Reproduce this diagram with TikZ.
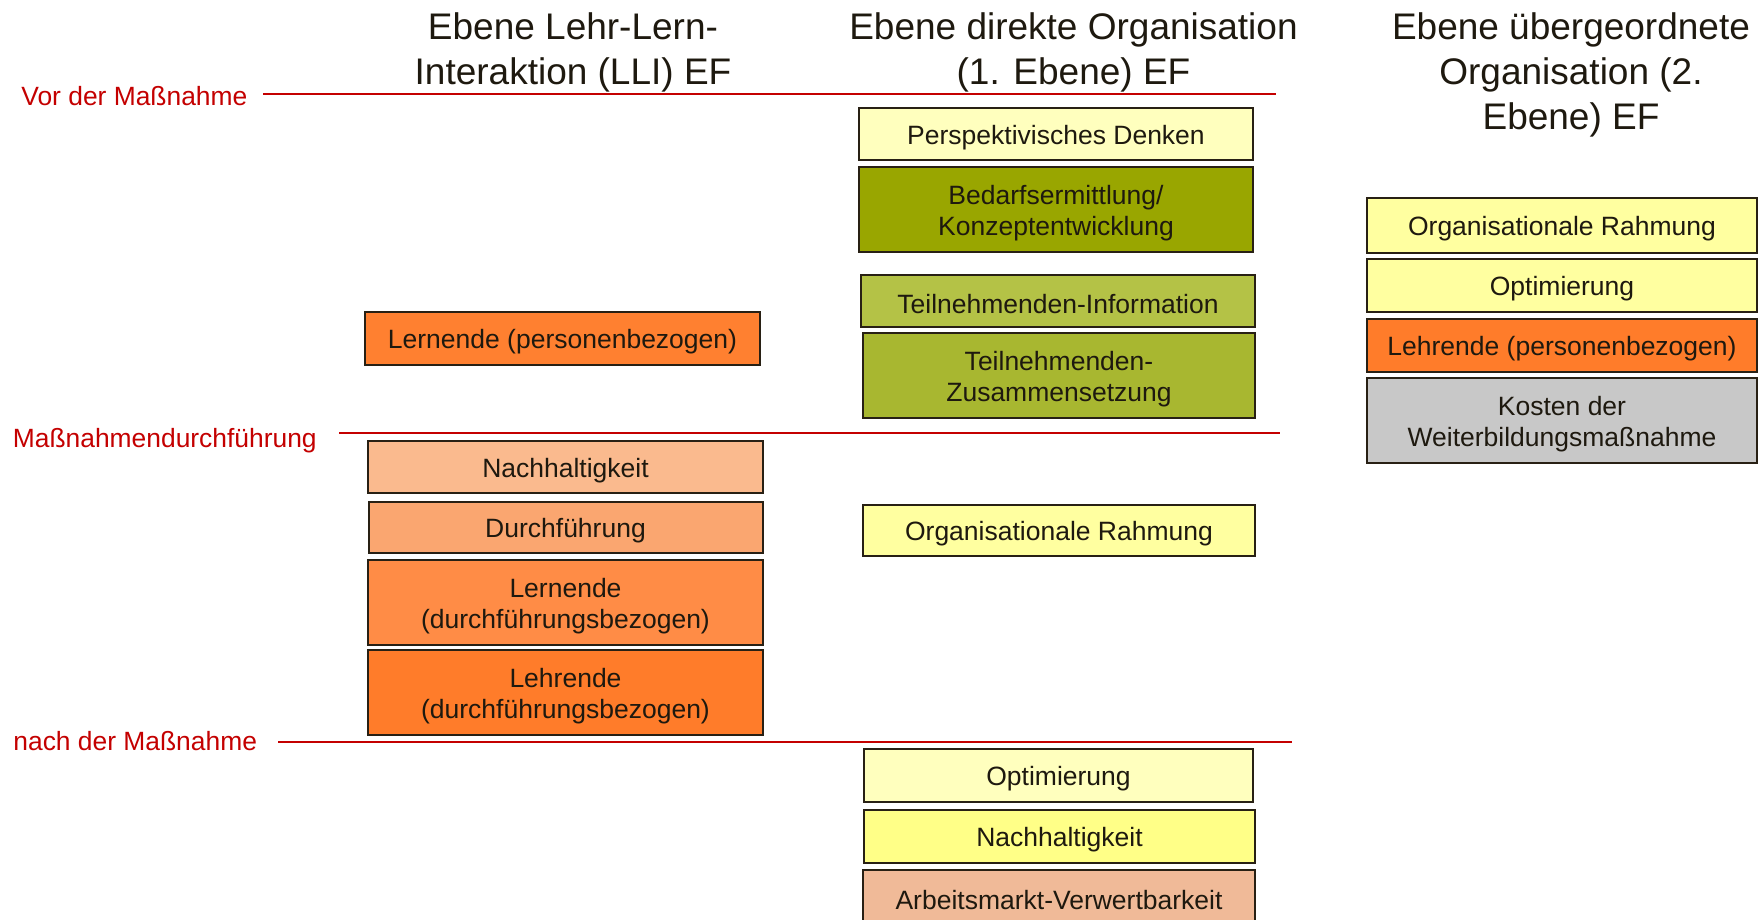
\documentclass[tikz,border=0pt]{standalone}
\usepackage{fontspec}
\setmainfont{Liberation Sans}
\definecolor{bordercol}{RGB}{40,32,20}
\definecolor{textcol}{RGB}{30,25,15}
\definecolor{sepred}{RGB}{196,0,0}
\definecolor{paleyel}{RGB}{255,255,190}
\definecolor{lightyel}{RGB}{255,255,160}
\definecolor{yel}{RGB}{255,255,135}
\definecolor{olive}{RGB}{153,166,0}
\definecolor{olivelt}{RGB}{180,194,70}
\definecolor{olivemd}{RGB}{168,183,48}
\definecolor{orgA}{RGB}{255,128,48}
\definecolor{orgB}{RGB}{250,186,142}
\definecolor{orgC}{RGB}{250,166,112}
\definecolor{orgD}{RGB}{255,140,70}
\definecolor{orgE}{RGB}{255,124,42}
\definecolor{greybox}{RGB}{200,200,200}
\definecolor{brownlt}{RGB}{240,186,152}
\newcommand{\firststrut}{\rule{0pt}{13pt}}
\begin{document}
\begin{tikzpicture}[x=0.5pt,y=-0.5pt,
  hdr/.style={align=center, inner sep=0pt, text=textcol, font=\fontsize{18.5}{22.5}\selectfont},
  lbl/.style={inner sep=0pt, text=sepred, font=\fontsize{13.2}{15.7}\selectfont},
  sepline/.style={draw=sepred, line width=1pt},
  box/.style={draw=bordercol, line width=1pt, inner sep=0pt, align=center, text=textcol,
    font=\fontsize{13.25}{15.7}\selectfont, execute at begin node={\firststrut}},
  bsz/.style n args={2}{minimum width=#1*0.5pt, minimum height=#2*0.5pt}]
\clip (0,0) rectangle (1758,920);
\fill[white] (0,0) rectangle (1758,920);

% headers
\node[hdr] (h1) at (573,52) {Ebene Lehr-Lern-\\Interaktion (LLI) EF};
\node[hdr] (h2) at (1073.5,52) {Ebene direkte Organisation\\(1. Ebene) EF};
\node[hdr] (h3) at (1571,75) {Ebene übergeordnete\\Organisation (2.\\Ebene) EF};

% phase labels
\node[lbl, anchor=base west] (l1) at (21,106) {Vor der Maßnahme};
\node[lbl, anchor=base west] (l2) at (12.5,447) {Maßnahmendurchführung};
\node[lbl, anchor=base west] (l3) at (13,750) {nach der Maßnahme};

% separator lines
\coordinate (s1a) at (263,94.5);  \coordinate (s1b) at (1276,94.5);
\coordinate (s2a) at (339,432.5); \coordinate (s2b) at (1280,432.5);
\coordinate (s3a) at (278,741.5); \coordinate (s3b) at (1292,741.5);
\draw[sepline] (s1a) -- (s1b);
\draw[sepline] (s2a) -- (s2b);
\draw[sepline] (s3a) -- (s3b);

% column 1
\node[box, fill=orgA, bsz={395}{53}] (c1a) at (562.5,338) {Lernende (personenbezogen)};
\node[box, fill=orgB, bsz={395}{52}] (c1b) at (565.5,467) {Nachhaltigkeit};
\node[box, fill=orgC, bsz={394}{51}] (c1c) at (565.5,527.5) {Durchführung};
\node[box, fill=orgD, bsz={395}{85}] (c1d) at (565.5,602.5) {\firststrut Lernende\\(durchführungsbezogen)};
\node[box, fill=orgE, bsz={395}{85}] (c1e) at (565.5,692.5) {\firststrut Lehrende\\(durchführungsbezogen)};

% column 2
\node[box, fill=paleyel, bsz={394}{52}] (c2a) at (1056,134.5) {Perspektivisches Denken};
\node[box, fill=olive, bsz={394}{84}] (c2b) at (1056,209.5) {\firststrut Bedarfsermittlung/\\Konzeptentwicklung};
\node[box, fill=olivelt, bsz={394}{52}] (c2c) at (1058,301) {Teilnehmenden-Information};
\node[box, fill=olivemd, bsz={392}{85}] (c2d) at (1059,375.5) {\firststrut Teilnehmenden-\\Zusammensetzung};
\node[box, fill=lightyel, bsz={392}{51}] (c2e) at (1059,530.5) {Organisationale Rahmung};
\node[box, fill=paleyel, bsz={389}{53}] (c2f) at (1058.5,775.5) {Optimierung};
\node[box, fill=yel, bsz={391}{53}] (c2g) at (1059.5,836.5) {Nachhaltigkeit};
\node[box, fill=brownlt, bsz={392}{53}] (c2h) at (1059,896.5) {Arbeitsmarkt-Verwertbarkeit};

% column 3
\node[box, fill=lightyel, bsz={390}{54}] (c3a) at (1562,225.5) {Organisationale Rahmung};
\node[box, fill=lightyel, bsz={390}{53}] (c3b) at (1562,285.5) {Optimierung};
\node[box, fill=orgE, bsz={390}{53}] (c3c) at (1562,345.5) {Lehrende (personenbezogen)};
\node[box, fill=greybox, bsz={390}{85}] (c3d) at (1562,420.5) {\firststrut Kosten der\\Weiterbildungsmaßnahme};
\end{tikzpicture}
\end{document}
